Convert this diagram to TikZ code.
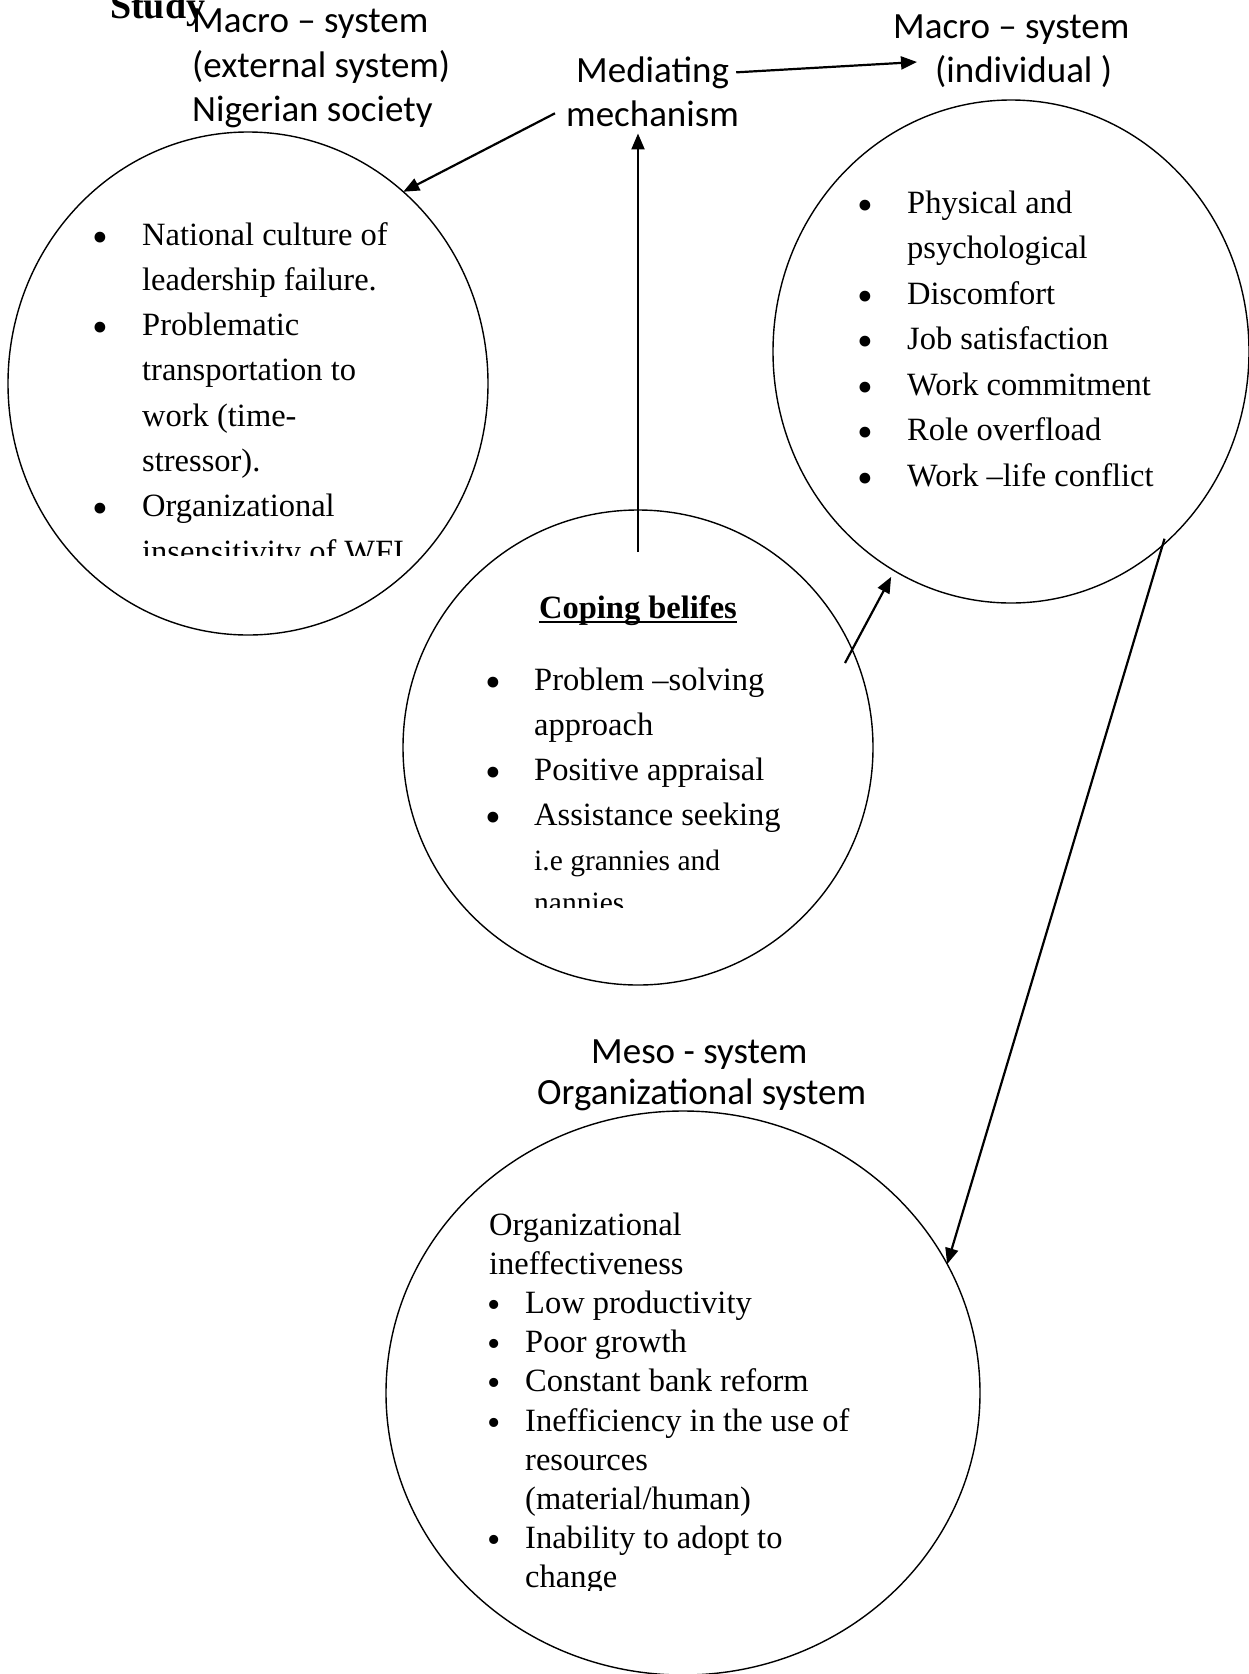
\documentclass[tikz,border=0pt]{standalone}
\usepackage{fontspec}
\setmainfont{Liberation Serif}
\newfontfamily\calfont{Carlito}
\usetikzlibrary{shapes.geometric,arrows.meta,positioning,calc}

\begin{document}
\begin{tikzpicture}[
    x=1pt, y=-1pt,
    circ/.style ={
        ellipse,
        draw=black,
        line width=1.4pt,
        inner sep=0pt,
        outer sep=0pt
    },
    lbl/.style ={
        font=\calfont\fontsize{37}{44}\selectfont,
        inner sep=0pt,
        anchor=base west
    },
    body/.style ={
        font=\rmfamily\fontsize{32.5}{45}\selectfont,
        inner sep=0pt,
        anchor=base west
    },
    small/.style ={
        body,
        font=\rmfamily\fontsize{29.5}{42}\selectfont
    },
    bul/.style ={
        body,
        font=\rmfamily\fontsize{45}{45}\selectfont,
        anchor=base,
        yshift=-7pt
    },
    sbul/.style ={
        body,
        font=\rmfamily\fontsize{38}{38}\selectfont,
        anchor=base,
        yshift=-4pt
    },
    arr/.style ={
        -{Triangle[length=16pt,width=13pt]},
        line width=2.2pt
    }
    ]
    \useasboundingbox (0,0) rectangle (1249,1674);

    \foreach \x/ \pos/ \w/ \h in {{lcirc/(248,383.5)/480/503}, {rcirc/(1011,351.5)/476/503},
                                  {mcirc/(638,747.5)/470/475}, {bcirc/(683,1393)/594/564}}
        \node[circ, minimum width=\w*1pt, minimum height=\h*1pt] (\x) at \pos {};

    \node[lbl, font=\rmfamily\bfseries\fontsize{38}{44}\selectfont] (study) at (110,18) {Study};
    \foreach \x/ \pos/ \t in {{lt1/(192,32)/Macro – system}, {lt2/(192,77)/(external system)},
                              {lt3/(192,121)/Nigerian society}, {rt1/(893,38)/Macro – system},
                              {rt2/(935,82)/(individual )}, {med1/(576,82)/Mediating},
                              {med2/(566,126)/mechanism}, {mt1/(591,1063)/Meso - system},
                              {mt2/(537,1104)/Organizational system}}
        \node[lbl] (\x) at \pos {\t};

    \begin{scope}
        \clip (0,0) rectangle (1249,555);
        \foreach \b/ \t [count=\i] in {1/National culture of, 0/leadership failure., 1/Problematic,
                                       0/transportation to, 0/work (time-, 0/stressor).,
                                       1/Organizational, 0/insensitivity of WFI}
        {
            \node[body] (l\i) at (142,{245+45.3*(\i-1)}) {\t};
            \ifnum\b=1 \node[bul] (lb\i) at (100,{245+45.3*(\i-1)}) {\textbullet}; \fi
        }
    \end{scope}

    \foreach \b/ \t [count=\i] in {1/Physical and, 0/psychological, 1/Discomfort, 1/Job satisfaction,
                                   1/Work commitment, 1/Role overfload, 1/Work –life conflict}
    {
        \node[body] (r\i) at (907,{213+45.5*(\i-1)}) {\t};
        \ifnum\b=1 \node[bul] (rb\i) at (865,{213+45.5*(\i-1)}) {\textbullet}; \fi
    }

    \node[body, font=\rmfamily\bfseries\fontsize{32.5}{40}\selectfont, anchor=base] (cop) at (638,618) {Coping belifes};
    \draw[line width=1.8pt] ([yshift=-4pt]cop.base west) -- ([yshift=-4pt]cop.base east);
    \begin{scope}
        \clip (0,0) rectangle (1249,907);
        \foreach \b/ \t [count=\i] in {1/Problem –solving, 0/approach, 1/Positive appraisal,
                                       1/Assistance seeking}
        {
            \node[body] (m\i) at (534,{690+45*(\i-1)}) {\t};
            \ifnum\b=1 \node[bul] (mb\i) at (493,{690+45*(\i-1)}) {\textbullet}; \fi
        }
        \node[small] (m5) at (534,870) {i.e grannies and};
        \node[small] (m6) at (534,912) {nannies};
    \end{scope}

    \begin{scope}
        \clip (0,0) rectangle (1249,1590);
        \node[body] (b1) at (489,1235) {Organizational};
        \node[body] (b2) at (489,1274) {ineffectiveness};
        \foreach \b/ \t [count=\i from 3] in {1/Low productivity, 1/Poor growth, 1/Constant bank reform,
                                              1/Inefficiency in the use of, 0/resources, 0/{(material/human)},
                                              1/Inability to adopt to, 0/change}
        {
            \node[body] (b\i) at (525,{1235+39.2*(\i-1)}) {\t};
            \ifnum\b=1 \node[sbul] (bb\i) at (494,{1235+39.2*(\i-1)}) {\textbullet}; \fi
        }
    \end{scope}

    \coordinate (rtip) at (917,62);
    \coordinate (sa) at (845,663);
    \draw[arr] ([xshift=-11pt]med2.west) -- (lcirc.51.6);
    \draw[arr] ([xshift=7pt]med1.east) -- (rtip);
    \draw[arr, shorten >=7pt] ([yshift=-42pt]mcirc.north) -- (mcirc.north |- med2.south);
    \draw[arr, shorten >=7pt] (sa) -- (rcirc.242.6);
    \draw[arr, shorten <=-7pt] (rcirc.-52) -- (bcirc.26);
\end{tikzpicture}
\end{document}
